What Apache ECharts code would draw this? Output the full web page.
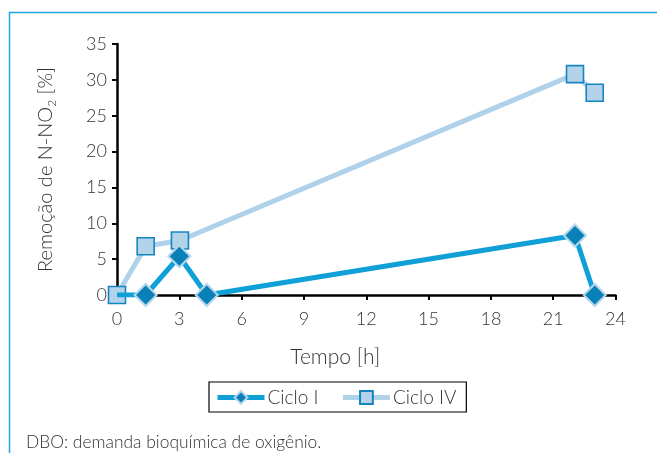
<!DOCTYPE html>
<html>
<head>
<meta charset="utf-8">
<script src="https://cdn.jsdelivr.net/npm/echarts@6/dist/echarts.min.js"></script>
<style>
html,body{margin:0;padding:0;background:#fff;}
#c{width:657px;height:453px;}
</style>
</head>
<body>
<div id="c"></div>
<script>
// Data
const cicloI_x = [0, 1.38, 3.0, 4.32, 22.05, 23.0];
const cicloI_y = [0, 0, 5.4, 0, 8.3, 0];
const cicloIV_x = [0, 1.38, 3.03, 22.05, 23.0];
const cicloIV_y = [0, 6.8, 7.6, 30.8, 28.2];
const xTicks = [0, 3, 6, 9, 12, 15, 18, 21, 24];
const yTicks = [0, 5, 10, 15, 20, 25, 30, 35];
const seriesNames = ['Ciclo I', 'Ciclo IV'];
const xTitle = 'Tempo [h]';
const yTitleMain = 'Remoção de N-NO';
const yTitleSub = '2';
const yTitleEnd = ' [%]';
const footnote = 'DBO: demanda bioquímica de oxigênio.';

const FONT = 'Lato';
const TXT = '#333333';

const chart = echarts.init(document.getElementById('c'), null, {renderer: 'canvas'});

function pairs(xs, ys) { return xs.map((x, i) => [x, ys[i]]); }

const dataI = pairs(cicloI_x, cicloI_y).map((p, i) => i === 0 ? {value: p, symbol: 'none'} : p);
const dataIV = pairs(cicloIV_x, cicloIV_y);

const option = {
  animation: false,
  backgroundColor: '#ffffff',
  textStyle: {fontFamily: FONT},
  grid: {left: 117, right: 41.5, top: 44, bottom: 158, containLabel: false},
  title: {
    text: footnote, left: 21, top: 429,
    textStyle: {fontFamily: FONT, fontWeight: 300, fontSize: 17.4, color: TXT}
  },
  legend: {
    data: seriesNames,
    left: 209, top: 382,
    orient: 'horizontal',
    borderColor: '#000', borderWidth: 1.2,
    padding: [6, 10, 5, 6],
    itemWidth: 47, itemHeight: 16, itemGap: 22,
    lineStyle: {width: 5},
    textStyle: {fontFamily: FONT, fontWeight: 300, fontSize: 19, color: TXT, padding: [0, 0, 0, -2]}
  },
  xAxis: {
    type: 'value', min: 0, max: 24, interval: 3,
    name: xTitle, nameLocation: 'middle', nameGap: 52,
    nameTextStyle: {fontFamily: FONT, fontWeight: 300, fontSize: 21, color: TXT, padding: [0, 62, 0, 0]},
    axisLine: {show: true, onZero: false, lineStyle: {color: '#000', width: 2.5}},
    axisTick: {show: true, inside: false, length: 5, lineStyle: {color: '#000', width: 2}},
    axisLabel: {fontFamily: FONT, fontWeight: 300, fontSize: 18, color: TXT, margin: 15,
      formatter: v => xTicks.includes(v) ? String(v) : ''},
    splitLine: {show: false}
  },
  yAxis: {
    type: 'value', min: 0, max: 35, interval: 5,
    name: '{m|' + yTitleMain + '}{s|' + yTitleSub + '}{m|' + yTitleEnd + '}',
    nameLocation: 'middle', nameGap: 59, nameRotate: 90,
    nameTextStyle: {
      fontFamily: FONT, fontWeight: 300, fontSize: 20, color: TXT,
      rich: {
        m: {fontFamily: FONT, fontWeight: 300, fontSize: 20, color: TXT, lineHeight: 24},
        s: {fontFamily: FONT, fontWeight: 300, fontSize: 12, color: TXT, lineHeight: 24, verticalAlign: 'bottom', padding: [9, 0, 0, 0]}
      }
    },
    axisLine: {show: true, onZero: false, lineStyle: {color: '#000', width: 2.5}},
    axisTick: {show: true, inside: false, length: 5, lineStyle: {color: '#000', width: 2}},
    axisLabel: {fontFamily: FONT, fontWeight: 300, fontSize: 18, color: TXT, margin: 10,
      formatter: v => yTicks.includes(v) ? String(v) : ''},
    splitLine: {show: false}
  },
  graphic: [{
    type: 'polyline', silent: true, z: 100,
    shape: {points: [[9.5, 460], [9.5, 12.5], [670, 12.5]]},
    style: {stroke: '#1ea8e0', lineWidth: 1.5, fill: null}
  }],
  series: [
    {
      name: seriesNames[1], type: 'line', z: 2,
      data: dataIV,
      symbol: 'rect', symbolSize: 17,
      lineStyle: {color: '#b0d1ea', width: 5},
      itemStyle: {color: '#b3d3ea', borderColor: '#1585c0', borderWidth: 1.6},
      emphasis: {disabled: true}
    },
    {
      name: seriesNames[0], type: 'line', z: 3,
      data: dataI,
      symbol: 'diamond', symbolSize: 22,
      lineStyle: {color: '#0ea0d6', width: 5},
      itemStyle: {color: '#0a80b8', borderColor: '#b6d6ec', borderWidth: 2},
      emphasis: {disabled: true}
    }
  ]
};
chart.setOption(option);
</script>
</body>
</html>
